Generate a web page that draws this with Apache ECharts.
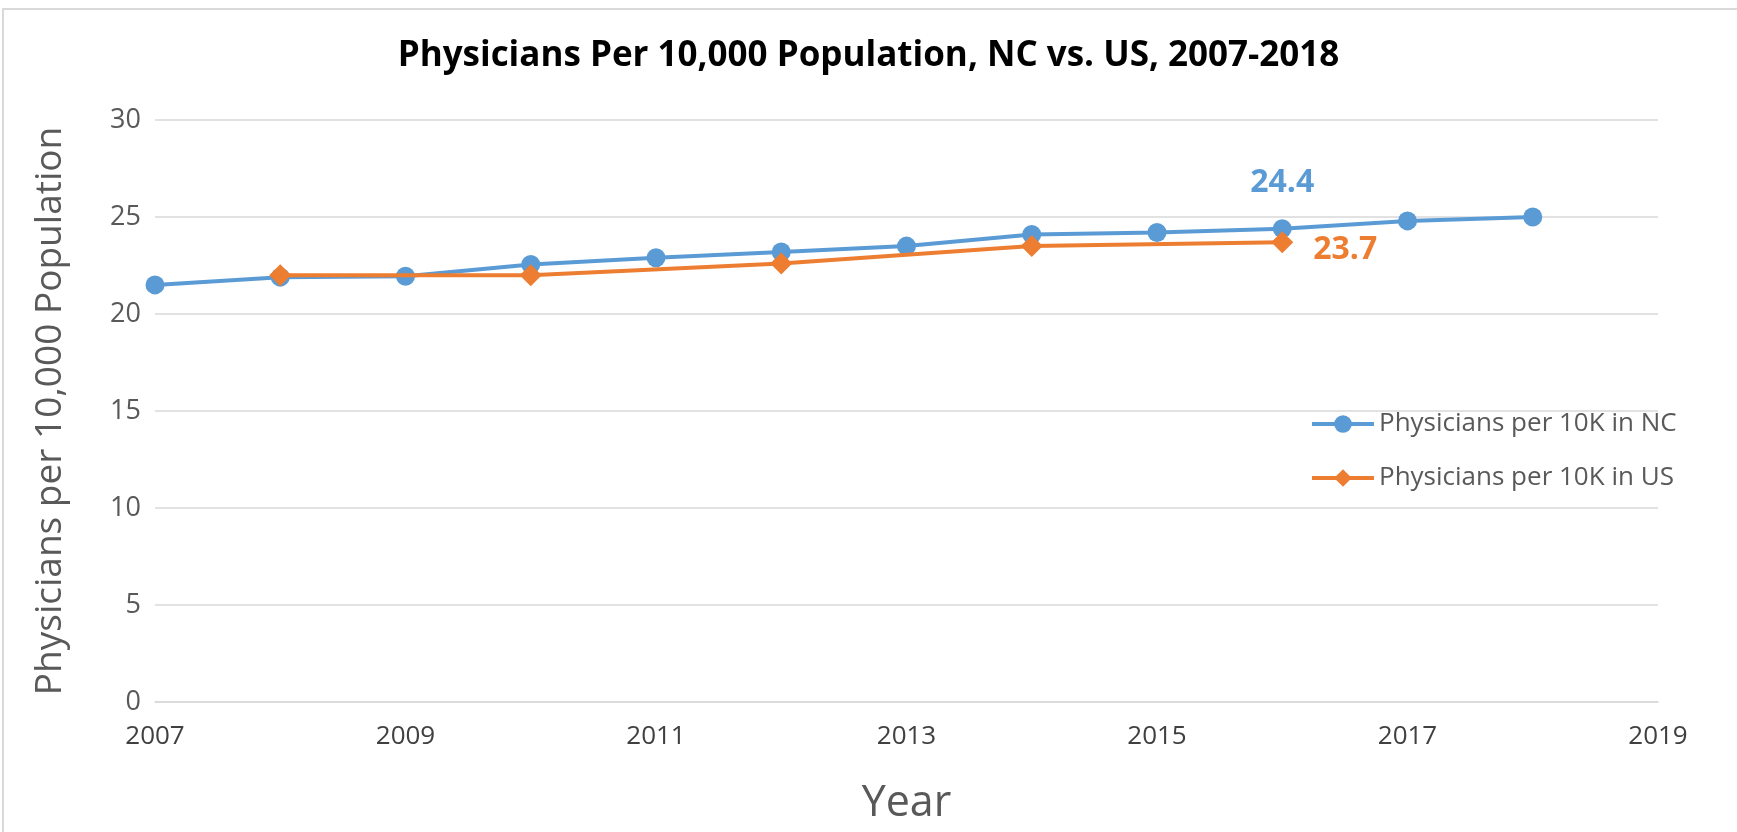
<!DOCTYPE html>
<html>
<head>
<meta charset="utf-8">
<script src="https://cdn.jsdelivr.net/npm/echarts@6/dist/echarts.min.js"></script>
<style>
  html, body { margin: 0; padding: 0; background: #fff; }
  #container { width: 1737px; height: 832px; }
</style>
</head>
<body>
<div id="container"></div>
<script>
// years on the x axis
var years = ['2007', '2008', '2009', '2010', '2011', '2012', '2013', '2014', '2015', '2016', '2017', '2018', '2019'];
// physicians per 10K
var ncValues = [21.5, 21.9, 21.95, 22.55, 22.9, 23.2, 23.5, 24.1, 24.2, 24.4, 24.8, 25.0, null];
var usValues = [null, 22.0, null, 22.0, null, 22.6, null, 23.5, null, 23.7, null, null, null];

var blue = '#5B9BD5';
var orange = '#ED7D31';
var gray = '#595959';
var font = 'Open Sans';

var charts = echarts.init(document.getElementById('container'));

function withLabel(values, idx, label) {
    return values.map(function (v, i) {
        if (i !== idx) return v;
        return { value: v, label: label };
    });
}

var option = {
    backgroundColor: '#fff',
    animation: false,
    textStyle: { fontFamily: font },
    graphic: [{
        type: 'rect',
        shape: { x: 3, y: 9, width: 1800, height: 900 },
        style: { fill: 'none', stroke: '#d9d9d9', lineWidth: 2 },
        silent: true
    }],
    title: {
        text: 'Physicians Per 10,000 Population, NC vs. US, 2007-2018',
        left: 'center',
        top: 34,
        textStyle: { fontFamily: font, fontSize: 35, fontWeight: 'bold', color: '#000' }
    },
    legend: {
        orient: 'vertical',
        left: 1305,
        top: 406,
        itemGap: 28,
        itemWidth: 62,
        itemHeight: 22,
        lineStyle: { width: 4 },
        textStyle: { fontFamily: font, fontSize: 26, color: gray },
        data: ['Physicians per 10K in NC', 'Physicians per 10K in US']
    },
    grid: { left: 155, right: 79, top: 120, bottom: 130 },
    xAxis: {
        type: 'category',
        data: years,
        boundaryGap: false,
        name: 'Year',
        nameLocation: 'middle',
        nameGap: 80,
        nameTextStyle: { fontFamily: font, fontSize: 43, color: gray },
        axisLine: { show: true, lineStyle: { color: '#d9d9d9', width: 1.5 } },
        axisTick: { show: false },
        axisLabel: { interval: 1, margin: 22, fontSize: 26, color: '#404040', fontFamily: font },
        splitLine: { show: false }
    },
    yAxis: {
        type: 'value',
        min: 0,
        max: 30,
        interval: 5,
        name: 'Physicians per 10,000 Population',
        nameLocation: 'middle',
        nameGap: 86,
        nameTextStyle: { fontFamily: font, fontSize: 37, color: gray },
        axisLine: { show: false },
        axisTick: { show: false },
        axisLabel: { margin: 14, fontSize: 27, color: gray, fontFamily: font },
        splitLine: { lineStyle: { color: '#d9d9d9', width: 1.5 } }
    },
    series: [{
        name: 'Physicians per 10K in NC',
        type: 'line',
        data: withLabel(ncValues, 9, {
            show: true, position: 'top', distance: 20,
            formatter: '24.4',
            color: blue, fontSize: 32, fontWeight: 'bold', fontFamily: font
        }),
        symbol: 'circle',
        symbolSize: 19,
        color: blue,
        lineStyle: { color: blue, width: 4 },
        itemStyle: { color: blue },
        z: 2
    }, {
        name: 'Physicians per 10K in US',
        type: 'line',
        connectNulls: true,
        data: withLabel(usValues, 9, {
            show: true, position: 'right', distance: 20, offset: [0, 8],
            formatter: '23.7',
            color: orange, fontSize: 32, fontWeight: 'bold', fontFamily: font
        }),
        symbol: 'diamond',
        symbolSize: 22,
        color: orange,
        lineStyle: { color: orange, width: 4 },
        itemStyle: { color: orange },
        z: 3
    }]
};
charts.setOption(option);
</script>
</body>
</html>
